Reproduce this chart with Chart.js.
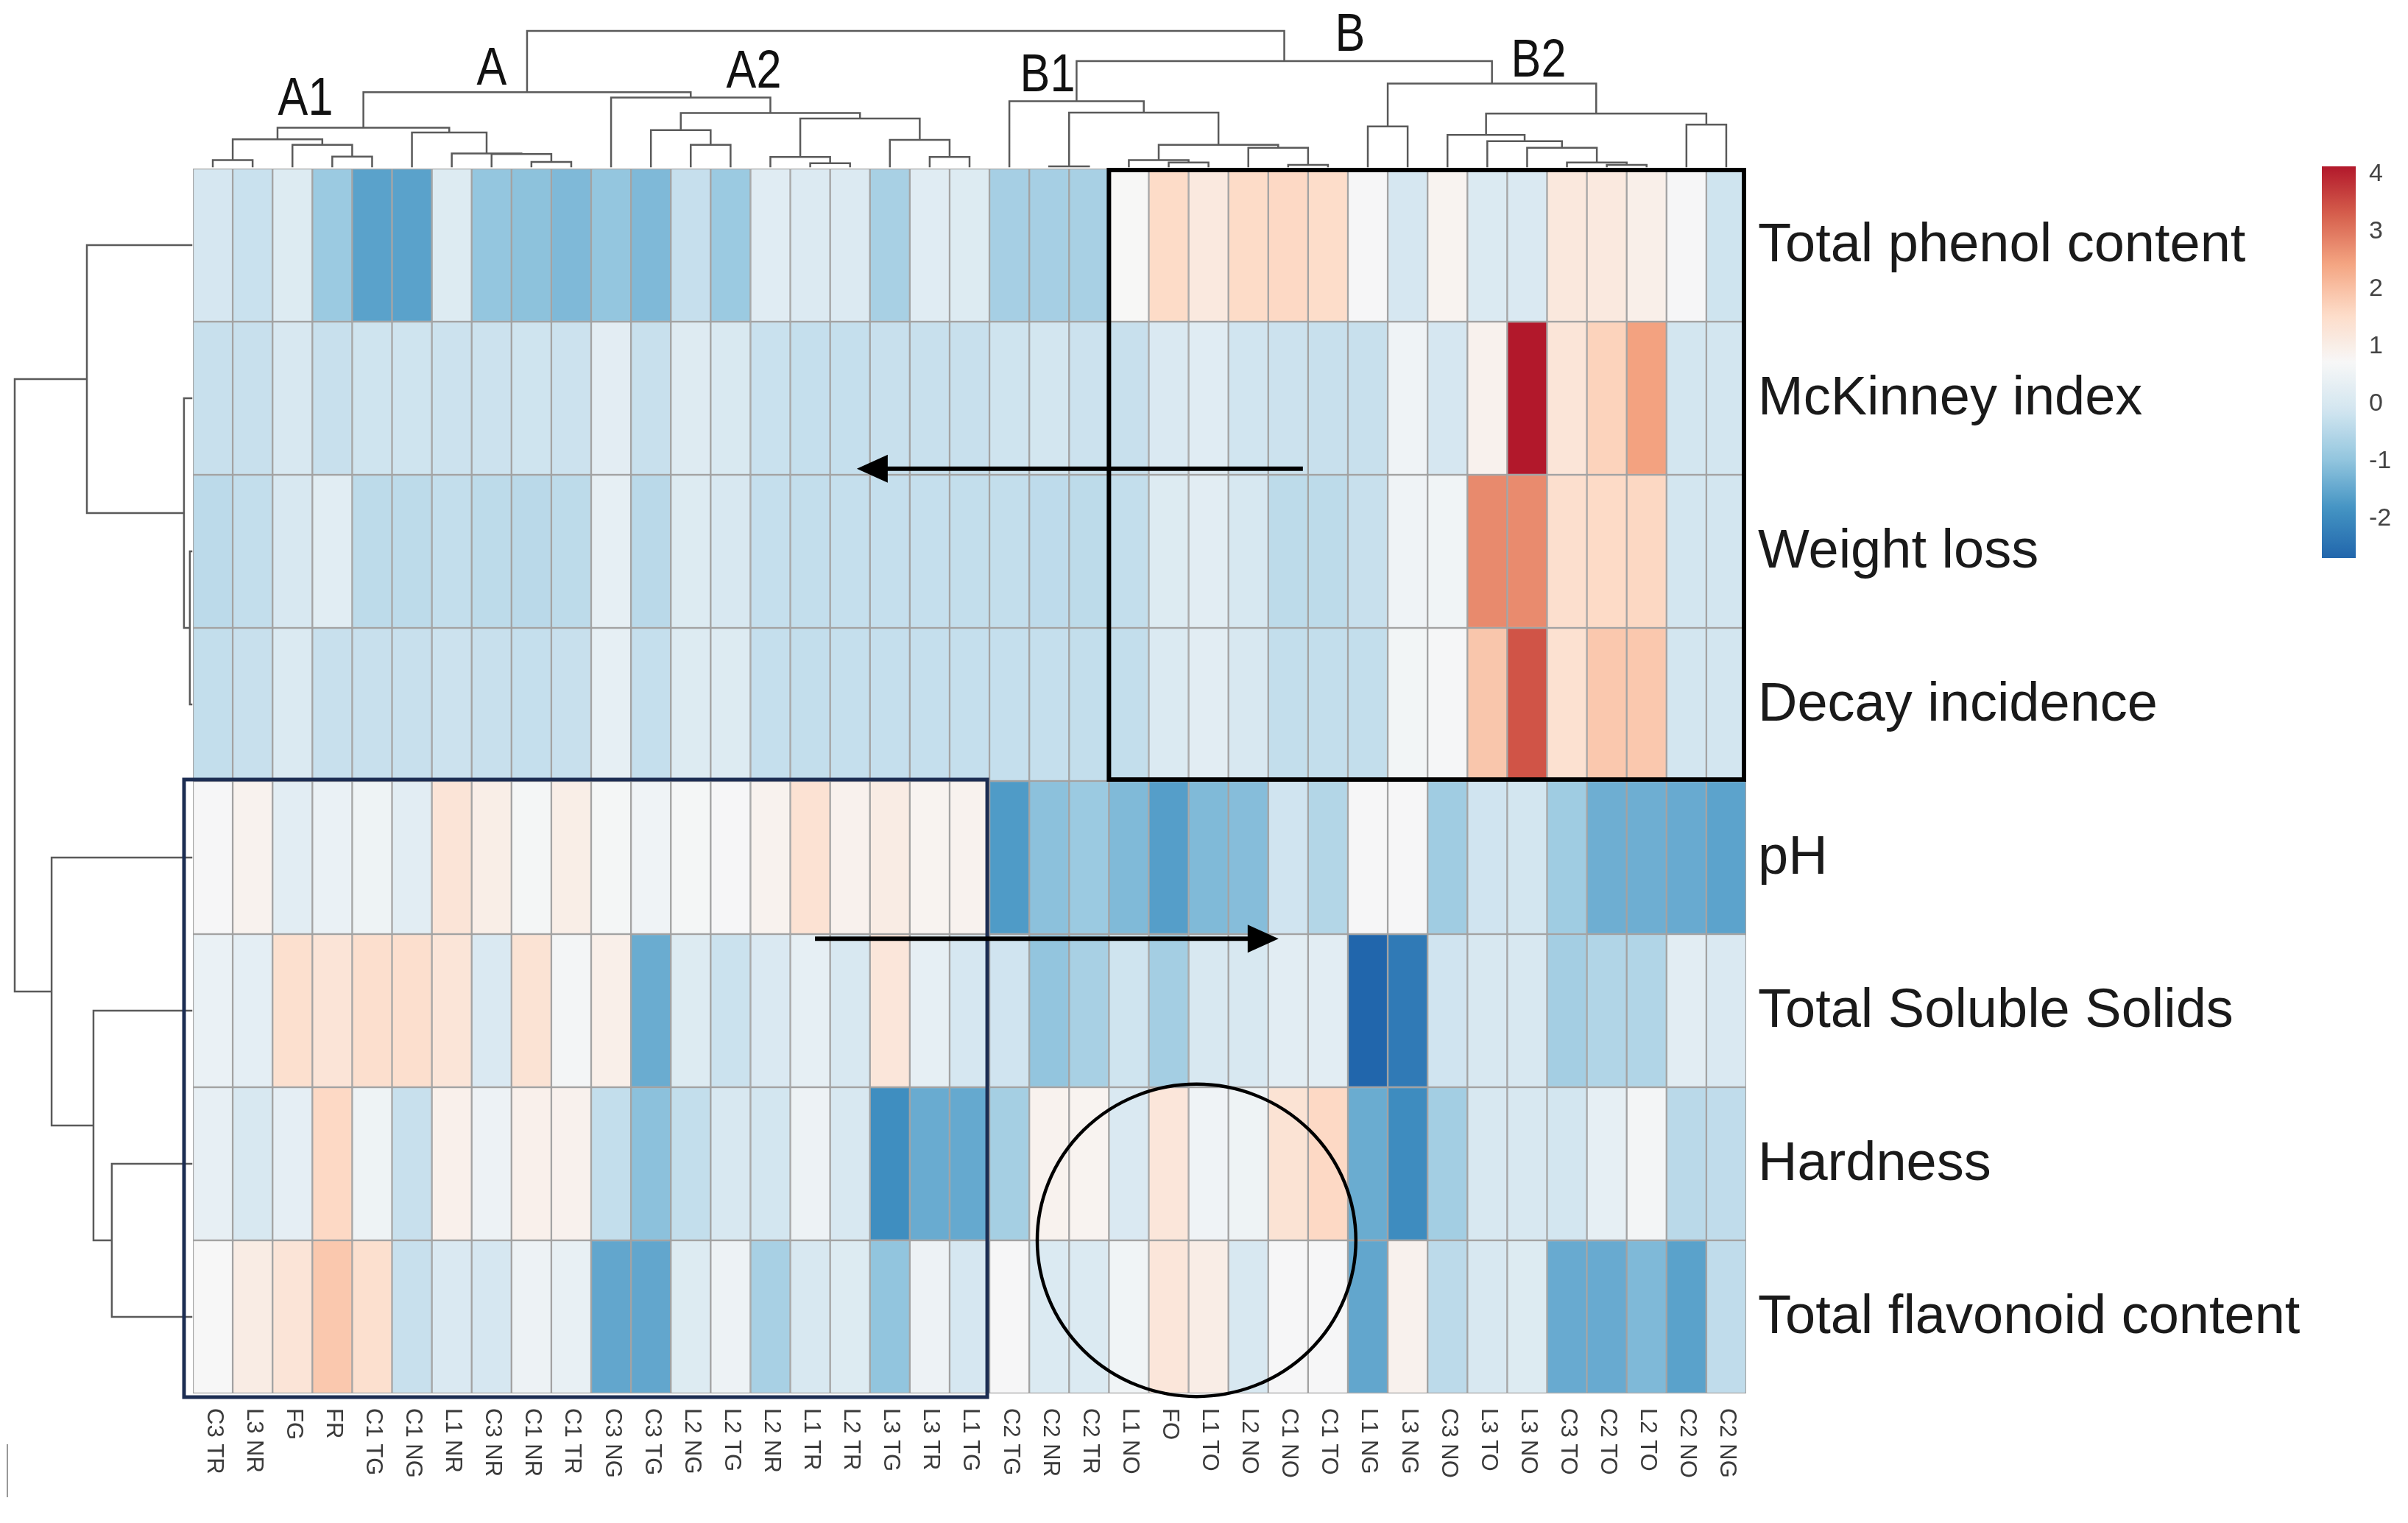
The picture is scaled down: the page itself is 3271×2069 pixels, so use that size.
<!DOCTYPE html>
<html><head><meta charset="utf-8">
<script src="https://cdn.jsdelivr.net/npm/chart.js@4.4.1/dist/chart.umd.min.js"></script>
<style>html,body{margin:0;padding:0;background:#fff;} canvas{display:block;}</style>
</head><body>
<canvas id="c" width="3271" height="2069"></canvas>
<script>
// ---------- DATA ----------
const columns = ["C3 TR","L3 NR","FG","FR","C1 TG","C1 NG","L1 NR","C3 NR","C1 NR","C1 TR",
  "C3 NG","C3 TG","L2 NG","L2 TG","L2 NR","L1 TR","L2 TR","L3 TG","L3 TR","L1 TG",
  "C2 TG","C2 NR","C2 TR","L1 NO","FO","L1 TO","L2 NO","C1 NO","C1 TO","L1 NG",
  "L3 NG","C3 NO","L3 TO","L3 NO","C3 TO","C2 TO","L2 TO","C2 NO","C2 NG"];
const rowNames = ["Total phenol content","McKinney index","Weight loss","Decay incidence",
  "pH","Total Soluble Solids","Hardness","Total flavonoid content"];

const totalPhenol = [-0.02,-0.24,0.14,-0.85,-1.58,-1.58,0.14,-0.95,-1.03,-1.18,-0.95,-1.18,-0.28,-0.85,0.21,0.12,0.12,-0.68,0.21,0.14,
  -0.71,-0.71,-0.68,0.74,1.55,1.15,1.55,1.60,1.52,0.70,-0.02,0.85,0.09,0.07,1.18,1.15,0.97,0.70,-0.16];
const mckinney = [-0.25,-0.25,0.03,-0.25,-0.16,-0.16,-0.20,-0.20,-0.16,-0.20,0.27,-0.25,0.16,0.05,-0.24,-0.29,-0.29,-0.25,-0.25,-0.25,
  -0.16,-0.09,-0.20,-0.25,0.07,0.21,-0.12,-0.20,-0.25,-0.25,0.55,-0.02,0.91,4.13,1.27,1.71,2.46,-0.09,-0.09];
const weightLoss = [-0.41,-0.32,0.03,0.23,-0.40,-0.40,-0.32,-0.40,-0.44,-0.40,0.34,-0.44,0.14,0.03,-0.29,-0.32,-0.29,-0.29,-0.29,-0.32,
  -0.32,-0.38,-0.40,-0.32,0.14,0.25,0.00,-0.40,-0.40,-0.25,0.55,0.56,2.76,2.75,1.46,1.58,1.63,-0.09,-0.09];
const decayIncidence = [-0.32,-0.25,0.09,-0.25,-0.25,-0.25,-0.20,-0.25,-0.29,-0.25,0.34,-0.29,0.14,0.14,-0.29,-0.32,-0.29,-0.29,-0.29,-0.29,
  -0.29,-0.29,-0.32,-0.32,0.09,0.25,0.03,-0.32,-0.32,-0.32,0.62,0.68,1.91,3.42,1.40,1.88,1.88,-0.09,-0.09];
const pH = [0.70,0.88,0.25,0.43,0.52,0.25,1.30,1.00,0.66,1.00,0.66,0.55,0.66,0.70,0.88,1.37,0.91,1.06,0.85,0.88,
  -1.70,-1.04,-0.85,-1.17,-1.64,-1.17,-1.11,-0.14,-0.53,0.70,0.70,-0.79,-0.14,-0.09,-0.80,-1.37,-1.37,-1.43,-1.56];
const totalSolubleSolids = [0.43,0.30,1.43,1.30,1.46,1.46,1.27,0.07,1.34,0.64,0.97,-1.41,0.14,-0.21,0.07,0.34,0.03,1.24,0.34,-0.02,
  -0.14,-0.97,-0.68,-0.16,-0.74,0.03,0.03,0.25,0.25,-2.68,-2.30,-0.14,0.03,0.03,-0.74,-0.56,-0.56,0.25,0.07];
const hardness = [0.36,0.03,0.32,1.60,0.52,-0.25,0.94,0.50,0.94,0.91,-0.32,-1.04,-0.32,0.03,-0.09,0.50,0.03,-1.93,-1.42,-1.46,
  -0.72,0.88,0.85,0.07,1.24,0.55,0.52,1.34,1.60,-1.41,-1.96,-0.75,0.03,0.03,-0.09,0.34,0.64,-0.44,-0.36];
const totalFlavonoid = [0.72,1.06,1.30,1.88,1.43,-0.25,0.07,-0.02,0.50,0.38,-1.50,-1.50,0.14,0.50,-0.68,0.03,0.14,-0.98,0.50,-0.02,
  0.70,0.09,0.09,0.56,1.24,1.03,0.03,0.70,0.70,-1.50,0.91,-0.41,0.03,0.14,-1.43,-1.43,-1.18,-1.58,-0.36];

const colorbarTicks = [4,3,2,1,0,-1,-2];
const colorMin = -2.68, colorMax = 4.13;

// column dendrogram merges (hclust style: negative = leaf column, positive = earlier merge), with heights
const colMerges = [
  [-1,-2,0.62],[-4,-5,0.87],[-3,2,1.73],[1,3,2.12],[-9,-10,0.48],[-8,5,1.05],[-7,6,1.10],[-6,7,2.62],[4,8,2.97],
  [-13,-14,1.73],[-12,10,2.79],[-16,-17,0.39],[-15,12,0.84],[-19,-20,0.84],[-18,14,2.08],[13,15,3.63],[11,16,4.04],
  [-11,17,5.16],[9,18,5.55],[-22,-23,0.16],[-25,-26,0.44],[-24,21,0.62],[-28,-29,0.27],[-27,23,1.51],[22,24,1.73],
  [20,25,4.07],[-21,26,4.89],[-30,-31,3.06],[-36,-37,0.27],[-35,29,0.44],[-34,30,1.51],[-33,31,1.99],[-32,32,2.44],
  [-38,-39,3.19],[33,34,4.00],[28,35,6.17],[27,36,7.81],[19,37,10]
];
// row dendrogram merges
const rowMerges = [[-3,-4,0.17],[-2,1,0.50],[-1,2,5.95],[-7,-8,4.55],[-6,4,5.58],[-5,5,7.93],[3,6,10]];
const clusterNames = ["A1","A","A2","B1","B","B2"];

// ---------- COLOUR ----------
const stops = ['#2166ac','#4393c3','#92c5de','#d1e5f0','#f7f7f7','#fddbc7','#f4a582','#d6604d','#b2182b'];
function hex(c){return [parseInt(c.slice(1,3),16),parseInt(c.slice(3,5),16),parseInt(c.slice(5,7),16)];}
const stopRGB = stops.map(hex);
function colorFor(v){
  let t=(v-colorMin)/(colorMax-colorMin); t=Math.max(0,Math.min(1,t));
  const s=t*(stops.length-1); const i=Math.min(stops.length-2,Math.floor(s)); const f=s-i;
  const a=stopRGB[i], b=stopRGB[i+1];
  return 'rgb('+a.map((x,k)=>Math.round(x+(b[k]-x)*f)).join(',')+')';
}

const rowValues = [totalPhenol,mckinney,weightLoss,decayIncidence,pH,totalSolubleSolids,hardness,totalFlavonoid];
const datasets = rowNames.map((name,i)=>({
  label:name,
  data: columns.map(()=>1),
  backgroundColor: rowValues[i].map(colorFor),
  borderColor:'#a3a3a3', borderWidth:1.5, borderSkipped:false,
  barPercentage:1, categoryPercentage:1, stack:'s'
}));

// ---------- OVERLAY PLUGIN ----------
function layoutTree(merges, leafPos){
  const nodes=[];
  const pos = id => id<0 ? {p:leafPos(-id-1), h:null} : nodes[id-1];
  merges.forEach(m=>{ const a=pos(m[0]), b=pos(m[1]); nodes.push({p:(a.p+b.p)/2, h:m[2], a, b}); });
  return nodes;
}
const overlay = {
  id:'overlay',
  afterDraw(chart){
    const {ctx, chartArea:ca} = chart;
    const xs = chart.scales.x, ys = chart.scales.y;
    const n = columns.length, colW = (xs.right-xs.left)/n;
    const xu = u => xs.left + u*colW;
    const yu = v => ys.getPixelForValue(v);
    ctx.save();

    // column labels (rotated, reading downward)
    ctx.fillStyle='#3a3a3a';
    ctx.font='31px "Liberation Sans", Arial, sans-serif';
    ctx.textAlign='left'; ctx.textBaseline='middle';
    columns.forEach((lab,k)=>{
      ctx.save();
      ctx.translate(xs.getPixelForValue(k)+1, ca.bottom+20);
      ctx.rotate(Math.PI/2);
      ctx.fillText(lab,0,0);
      ctx.restore();
    });

    // row labels
    ctx.fillStyle='#1a1a1a';
    ctx.font='74px "Liberation Sans", Arial, sans-serif';
    rowNames.forEach((lab,i)=>{ ctx.fillText(lab, ca.right+16, yu(i+0.5)+2); });

    // dendrograms
    ctx.strokeStyle='#5a5a5a'; ctx.lineWidth=2.5; ctx.lineCap='square';
    const topH = 187, topBase = ca.top-3;
    const yh = h => h===null ? topBase : ca.top - h*topH/10;
    const cn = layoutTree(colMerges, k=>xs.getPixelForValue(k));
    ctx.beginPath();
    cn.forEach(nd=>{
      const y=yh(nd.h);
      ctx.moveTo(nd.a.p, yh(nd.a.h)); ctx.lineTo(nd.a.p, y); ctx.lineTo(nd.b.p, y); ctx.lineTo(nd.b.p, yh(nd.b.h));
    });
    ctx.stroke();
    const leftW = 242, leftBase = ca.left-2;
    const xh = h => h===null ? leftBase : ca.left - h*leftW/10;
    const rn = layoutTree(rowMerges, r=>yu(r+0.5));
    ctx.beginPath();
    rn.forEach(nd=>{
      const x=xh(nd.h);
      ctx.moveTo(xh(nd.a.h), nd.a.p); ctx.lineTo(x, nd.a.p); ctx.lineTo(x, nd.b.p); ctx.lineTo(xh(nd.b.h), nd.b.p);
    });
    ctx.stroke();

    // cluster letters
    const letterPos = {A1:[415,136],A:[668,95],A2:[1024,99],B1:[1423,104],B:[1834,49],B2:[2090,84]};
    ctx.fillStyle='#111';
    ctx.font='72px "Liberation Sans", Arial, sans-serif';
    ctx.textAlign='center'; ctx.textBaseline='middle';
    clusterNames.forEach(nm=>{
      const p=letterPos[nm];
      ctx.save(); ctx.translate(p[0],p[1]); ctx.scale(0.85,1); ctx.fillText(nm,0,0); ctx.restore();
    });

    // highlight boxes
    ctx.lineCap='butt';
    ctx.strokeStyle='#000'; ctx.lineWidth=6;
    ctx.strokeRect(xu(23), yu(0)+2, xu(39)-xu(23)-3, yu(4)-yu(0)-4);
    ctx.strokeStyle='#1c2d52'; ctx.lineWidth=5;
    ctx.strokeRect(xu(0)-12, yu(4)-2, xu(20)-3-(xu(0)-12), yu(8)+5-(yu(4)-2));

    // arrows
    function arrow(u0,u1,v){
      const x0=xu(u0), x1=xu(u1), y=yu(v), dir=Math.sign(x1-x0);
      ctx.strokeStyle='#000'; ctx.fillStyle='#000'; ctx.lineWidth=6;
      ctx.beginPath(); ctx.moveTo(x0,y); ctx.lineTo(x1-dir*38,y); ctx.stroke();
      ctx.beginPath(); ctx.moveTo(x1,y); ctx.lineTo(x1-dir*42,y-19); ctx.lineTo(x1-dir*42,y+19); ctx.closePath(); ctx.fill();
    }
    arrow(27.87,16.67,1.96);
    arrow(15.62,27.26,5.03);

    // circle
    ctx.strokeStyle='#000'; ctx.lineWidth=4.5;
    ctx.beginPath();
    ctx.ellipse(xu(25.2), yu(7.0), 4.0*colW, 1.02*(yu(1)-yu(0)), 0, 0, Math.PI*2);
    ctx.stroke();

    // colour bar
    const cbL=3154, cbW=46, cbT=226, cbB=758;
    const cy = v => cbB - (v-colorMin)/(colorMax-colorMin)*(cbB-cbT);
    const g = ctx.createLinearGradient(0,cbB,0,cbT);
    for(let i=0;i<=60;i++){ const t=i/60; g.addColorStop(t, colorFor(colorMin+t*(colorMax-colorMin))); }
    ctx.fillStyle=g; ctx.fillRect(cbL,cbT,cbW,cbB-cbT);
    ctx.fillStyle='#444'; ctx.font='34px "Liberation Sans", Arial, sans-serif';
    ctx.textAlign='left'; ctx.textBaseline='middle';
    colorbarTicks.forEach(v=>ctx.fillText(String(v), cbL+cbW+18, cy(v)));

    // small mark bottom-left
    ctx.strokeStyle='#999'; ctx.lineWidth=2;
    ctx.beginPath(); ctx.moveTo(10,1962); ctx.lineTo(10,2034); ctx.stroke();
    ctx.restore();
  }
};

new Chart(document.getElementById('c').getContext('2d'), {
  type:'bar',
  data:{labels:columns, datasets},
  options:{
    responsive:false, animation:false, devicePixelRatio:1,
    layout:{padding:{left:262,right:899,top:229,bottom:176}},
    plugins:{legend:{display:false}, tooltip:{enabled:false}},
    scales:{
      x:{display:false, stacked:true},
      y:{display:false, stacked:true, min:0, max:8, reverse:true}
    }
  },
  plugins:[overlay]
});
</script>
</body></html>
